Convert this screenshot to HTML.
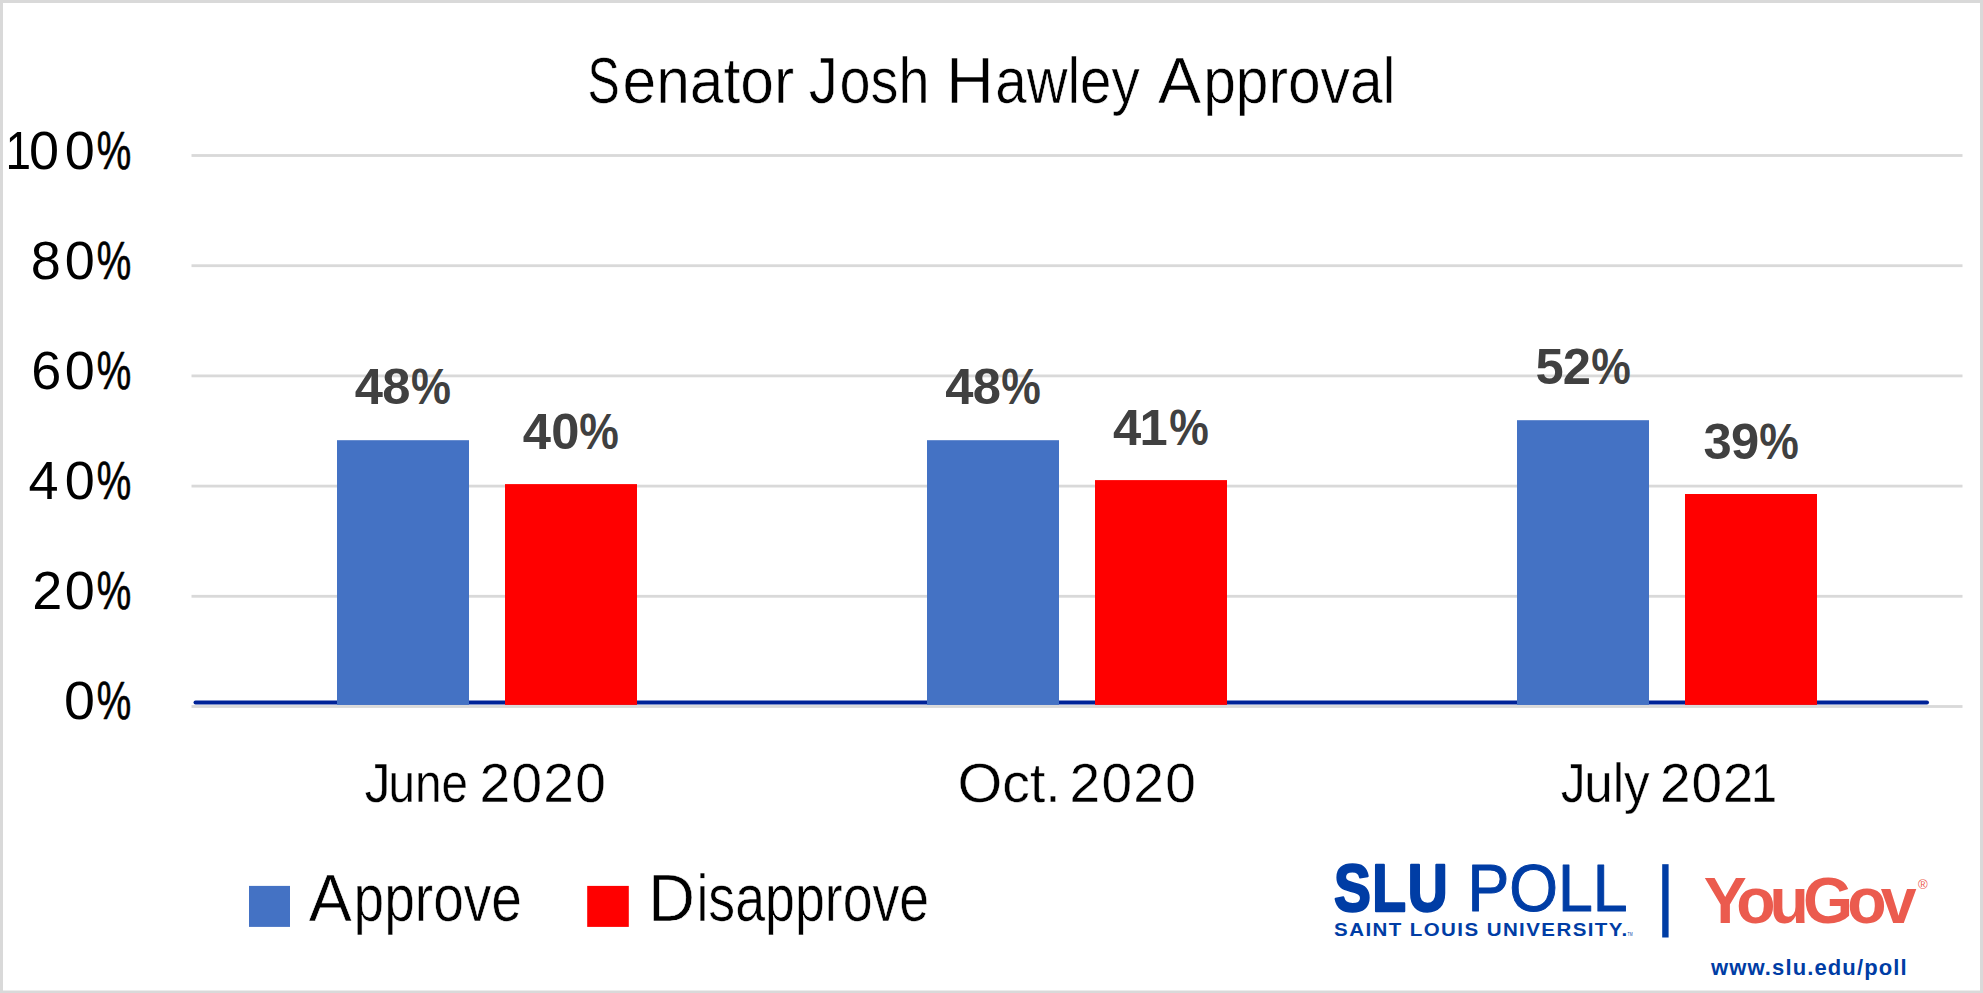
<!DOCTYPE html>
<html lang="en">
<head>
<meta charset="utf-8">
<title>Senator Josh Hawley Approval</title>
<style>
html,body{margin:0;padding:0;background:#fff;}
body{width:1983px;height:993px;overflow:hidden;}
svg{display:block;}
text{font-family:"Liberation Sans",sans-serif;}
</style>
</head>
<body>
<svg width="1983" height="993" viewBox="0 0 1983 993">
<!-- frame -->
<rect x="0" y="0" width="1983" height="993" fill="#D9D9D9"/>
<rect x="3" y="3" width="1977" height="987.5" fill="#FFFFFF"/>
<!-- gridlines -->
<g fill="#D9D9D9">
<rect x="191.5" y="154.1" width="1771" height="2.8"/>
<rect x="191.5" y="264.3" width="1771" height="2.8"/>
<rect x="191.5" y="374.5" width="1771" height="2.8"/>
<rect x="191.5" y="484.7" width="1771" height="2.8"/>
<rect x="191.5" y="594.9" width="1771" height="2.8"/>
<rect x="191.5" y="705.1" width="1771" height="2.8"/>
</g>
<!-- x axis -->
<line x1="195.5" y1="702.4" x2="1927" y2="702.4" stroke="#002398" stroke-width="4" stroke-linecap="round"/>
<!-- bars -->
<rect x="337" y="440.2" width="132" height="264.7" fill="#4472C4"/>
<rect x="505" y="484.1" width="132" height="220.8" fill="#FF0000"/>
<rect x="927" y="440.2" width="132" height="264.7" fill="#4472C4"/>
<rect x="1095" y="480.1" width="132" height="224.8" fill="#FF0000"/>
<rect x="1517" y="420.2" width="132" height="284.7" fill="#4472C4"/>
<rect x="1685" y="494" width="132" height="210.9" fill="#FF0000"/>
<!-- legend swatches -->
<rect x="249" y="885.9" width="41" height="41" fill="#4472C4"/>
<rect x="587.2" y="885.9" width="41.6" height="41" fill="#FF0000"/>
<!-- logo divider -->
<rect x="1662.2" y="864.2" width="6.4" height="73.3" fill="#003DA5"/>
<!-- text -->
<text font-size="65" fill="#000" stroke="#FFFFFF" stroke-width="0.60"><tspan x="587.59" y="102.90" textLength="32.21" lengthAdjust="spacingAndGlyphs">S</tspan><tspan x="622.50" y="102.90" textLength="171.71" lengthAdjust="spacingAndGlyphs">enator</tspan> <tspan x="808.85" y="102.90" textLength="29.28" lengthAdjust="spacingAndGlyphs">J</tspan><tspan x="839.52" y="102.90" textLength="90.09" lengthAdjust="spacingAndGlyphs">osh</tspan> <tspan x="945.92" y="102.90" textLength="48.00" lengthAdjust="spacingAndGlyphs">H</tspan><tspan x="995.19" y="102.90" textLength="144.61" lengthAdjust="spacingAndGlyphs">awley</tspan> <tspan x="1158.05" y="102.90" textLength="43.15" lengthAdjust="spacingAndGlyphs">A</tspan><tspan x="1203.14" y="102.90" textLength="192.50" lengthAdjust="spacingAndGlyphs">pproval</tspan></text>
<text font-size="54" fill="#000"><tspan x="5.50" y="168.70" textLength="25.53" lengthAdjust="spacingAndGlyphs">1</tspan><tspan x="29.10" y="168.70" textLength="65.77" lengthAdjust="spacing">00</tspan><tspan x="96.72" y="168.70" textLength="34.46" lengthAdjust="spacingAndGlyphs" stroke="#000" stroke-width="0.70" stroke-linejoin="round">%</tspan></text>
<text font-size="54" fill="#000"><tspan x="30.85" y="278.80" textLength="64.02" lengthAdjust="spacing">80</tspan><tspan x="96.72" y="278.80" textLength="34.46" lengthAdjust="spacingAndGlyphs" stroke="#000" stroke-width="0.70" stroke-linejoin="round">%</tspan></text>
<text font-size="54" fill="#000"><tspan x="31.15" y="388.90" textLength="63.72" lengthAdjust="spacing">60</tspan><tspan x="96.72" y="388.90" textLength="34.46" lengthAdjust="spacingAndGlyphs" stroke="#000" stroke-width="0.70" stroke-linejoin="round">%</tspan></text>
<text font-size="54" fill="#000"><tspan x="28.55" y="499.00" textLength="66.32" lengthAdjust="spacing">40</tspan><tspan x="96.72" y="499.00" textLength="34.46" lengthAdjust="spacingAndGlyphs" stroke="#000" stroke-width="0.70" stroke-linejoin="round">%</tspan></text>
<text font-size="54" fill="#000"><tspan x="32.25" y="609.10" textLength="62.62" lengthAdjust="spacing">20</tspan><tspan x="96.72" y="609.10" textLength="34.46" lengthAdjust="spacingAndGlyphs" stroke="#000" stroke-width="0.70" stroke-linejoin="round">%</tspan></text>
<text font-size="54" fill="#000"><tspan x="63.94" y="719.20" textLength="30.96" lengthAdjust="spacingAndGlyphs">0</tspan><tspan x="96.72" y="719.20" textLength="34.46" lengthAdjust="spacingAndGlyphs" stroke="#000" stroke-width="0.70" stroke-linejoin="round">%</tspan></text>
<text font-size="55" fill="#000" stroke="#FFFFFF" stroke-width="0.40"><tspan x="364.51" y="802.40" textLength="26.13" lengthAdjust="spacingAndGlyphs">J</tspan><tspan x="388.45" y="802.40" textLength="79.55" lengthAdjust="spacingAndGlyphs">une</tspan> <tspan x="479.50" y="802.40" textLength="126.36" lengthAdjust="spacing">2020</tspan></text>
<text font-size="55" fill="#000" stroke="#FFFFFF" stroke-width="0.40"><tspan x="957.42" y="802.40" textLength="44.79" lengthAdjust="spacingAndGlyphs">O</tspan><tspan x="1002.39" y="802.40" textLength="58.24" lengthAdjust="spacingAndGlyphs">ct.</tspan> <tspan x="1069.50" y="802.40" textLength="126.36" lengthAdjust="spacing">2020</tspan></text>
<text font-size="55" fill="#000" stroke="#FFFFFF" stroke-width="0.40"><tspan x="1560.87" y="802.40" textLength="24.88" lengthAdjust="spacingAndGlyphs">J</tspan><tspan x="1584.21" y="802.40" textLength="65.41" lengthAdjust="spacingAndGlyphs">uly</tspan> <tspan x="1660.10" y="802.40" textLength="93.32" lengthAdjust="spacing">202</tspan><tspan x="1751.11" y="802.40" textLength="26.00" lengthAdjust="spacingAndGlyphs">1</tspan></text>
<text font-size="50.7" fill="#404040" font-weight="bold"><tspan x="354.75" y="404.10" textLength="55.79" lengthAdjust="spacing">48</tspan><tspan x="410.89" y="404.10" textLength="39.99" lengthAdjust="spacingAndGlyphs">%</tspan></text>
<text font-size="50.7" fill="#404040" font-weight="bold"><tspan x="522.75" y="448.90" textLength="56.79" lengthAdjust="spacing">40</tspan><tspan x="579.30" y="448.90" textLength="39.57" lengthAdjust="spacingAndGlyphs">%</tspan></text>
<text font-size="50.7" fill="#404040" font-weight="bold"><tspan x="945.25" y="404.10" textLength="55.59" lengthAdjust="spacing">48</tspan><tspan x="1001.20" y="404.10" textLength="39.57" lengthAdjust="spacingAndGlyphs">%</tspan></text>
<text font-size="50.7" fill="#404040" font-weight="bold"><tspan x="1113.05" y="444.90" textLength="54.64" lengthAdjust="spacing">41</tspan><tspan x="1169.20" y="444.90" textLength="39.57" lengthAdjust="spacingAndGlyphs">%</tspan></text>
<text font-size="50.7" fill="#404040" font-weight="bold"><tspan x="1535.50" y="384.10" textLength="55.44" lengthAdjust="spacing">52</tspan><tspan x="1591.20" y="384.10" textLength="39.57" lengthAdjust="spacingAndGlyphs">%</tspan></text>
<text font-size="50.7" fill="#404040" font-weight="bold"><tspan x="1703.55" y="458.80" textLength="55.64" lengthAdjust="spacing">39</tspan><tspan x="1759.20" y="458.80" textLength="39.57" lengthAdjust="spacingAndGlyphs">%</tspan></text>
<text font-size="66" fill="#000" stroke="#FFFFFF" stroke-width="0.60"><tspan x="308.77" y="920.60" textLength="43.09" lengthAdjust="spacingAndGlyphs">A</tspan><tspan x="353.54" y="920.60" textLength="168.41" lengthAdjust="spacingAndGlyphs">pprove</tspan></text>
<text font-size="66" fill="#000" stroke="#FFFFFF" stroke-width="0.60"><tspan x="648.02" y="920.60" textLength="47.05" lengthAdjust="spacingAndGlyphs">D</tspan><tspan x="696.44" y="920.60" textLength="232.74" lengthAdjust="spacingAndGlyphs">isapprove</tspan></text>
<text transform="translate(1333.88 911.10) scale(0.8200 1)" x="0" y="0" font-size="67.4" fill="#003DA5" font-weight="bold" textLength="138.67" lengthAdjust="spacing" stroke="#003DA5" stroke-width="2.40" stroke-linejoin="round">SLU</text>
<text x="1467.45" y="911.10" font-size="67.4" fill="#003DA5" textLength="160.17" lengthAdjust="spacingAndGlyphs" stroke="#003DA5" stroke-width="1.00" stroke-linejoin="round">POLL</text>
<text transform="translate(1334.09 935.80) scale(1.0800 1)" x="0" y="0" font-size="19" fill="#003DA5" font-weight="bold" textLength="271.50" lengthAdjust="spacing">SAINT LOUIS UNIVERSITY.</text>
<text font-size="64.4" fill="#EB5B4E" font-weight="bold"><tspan x="1703.85" y="922.90" textLength="212.70" lengthAdjust="spacing">YouGov</tspan></text>
<text x="1711.00" y="974.70" font-size="22" fill="#003DA5" font-weight="bold" textLength="195.61" lengthAdjust="spacing">www.slu.edu/poll</text>
<text x="1627.6" y="935.6" font-size="4.6" fill="#003DA5" textLength="5" lengthAdjust="spacingAndGlyphs">TM</text>
<text x="1917.9" y="889.3" font-size="13.2" fill="#EB5B4E">®</text>
</svg>
</body>
</html>
